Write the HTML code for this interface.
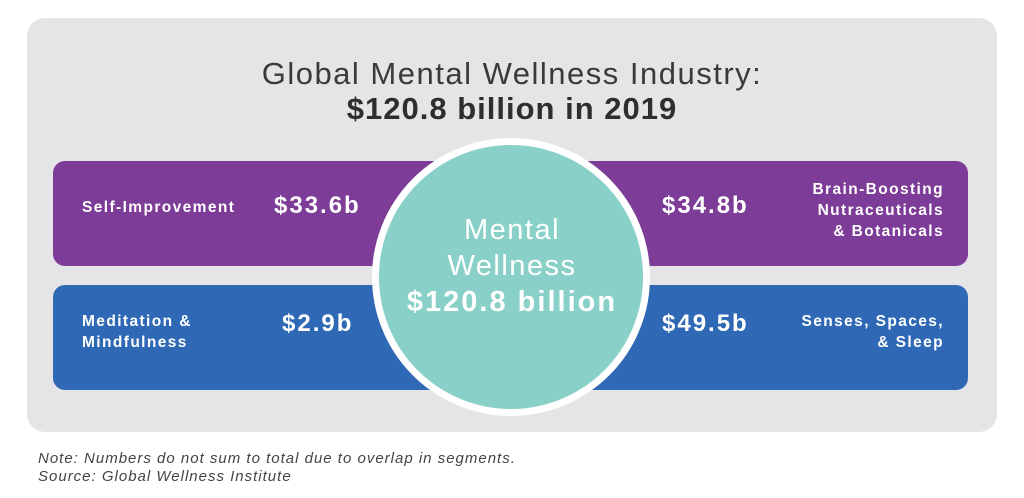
<!DOCTYPE html>
<html><head><style>
body{margin:0;width:1024px;height:498px;background:#fff;font-family:"Liberation Sans",sans-serif;position:relative;overflow:hidden}
.panel{position:absolute;left:27px;top:18px;width:970px;height:414px;background:#e5e5e7;border-radius:18px}
.bar{position:absolute;left:53px;width:915px;height:105px;border-radius:12px}
.t{position:absolute;color:#fff;font-weight:bold;white-space:nowrap}
.s{font-size:15.5px;line-height:21px;letter-spacing:1.4px}
.v{font-size:24px;letter-spacing:2px}
</style></head><body>
<div class="panel"></div>
<div style="position:absolute;left:0;width:1024px;top:56px;text-align:center;font-size:31px;letter-spacing:1.5px;color:#3a3a3a">Global Mental Wellness Industry:</div>
<div style="position:absolute;left:0;width:1024px;top:91px;text-align:center;font-size:31px;letter-spacing:1px;font-weight:bold;color:#2e2e2e">$120.8 billion in 2019</div>
<div class="bar" style="top:161px;background:#7d3c97"></div>
<div class="bar" style="top:285px;background:#2f69b6"></div>
<div class="t s" style="left:82px;top:197px">Self-Improvement</div>
<div class="t v" style="left:274px;top:192px">$33.6b</div>
<div class="t v" style="left:662px;top:192px">$34.8b</div>
<div class="t s" style="right:80px;top:179px;text-align:right">Brain-Boosting<br>Nutraceuticals<br>&amp; Botanicals</div>
<div class="t s" style="left:82px;top:311px">Meditation &amp;<br>Mindfulness</div>
<div class="t v" style="left:282px;top:310px">$2.9b</div>
<div class="t v" style="left:662px;top:310px">$49.5b</div>
<div class="t s" style="right:80px;top:311px;text-align:right">Senses, Spaces,<br>&amp; Sleep</div>
<div style="position:absolute;left:372px;top:138px;width:264px;height:264px;border-radius:50%;background:#89d0c8;border:7px solid #fff"></div>
<div style="position:absolute;left:376px;width:272px;top:212px;text-align:center;color:#fff;font-size:29px;line-height:36px;letter-spacing:1.5px">Mental<br>Wellness<br><b style="letter-spacing:2px">$120.8 billion</b></div>
<div style="position:absolute;left:38px;top:450px;font-size:15px;letter-spacing:1px;font-style:italic;color:#444;line-height:18px">Note: Numbers do not sum to total due to overlap in segments.<br>Source: Global Wellness Institute</div>
</body></html>
